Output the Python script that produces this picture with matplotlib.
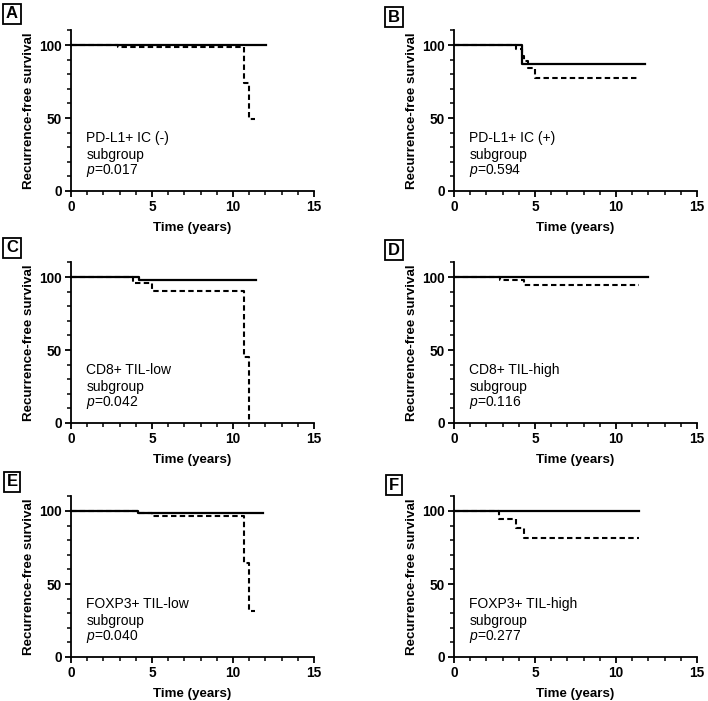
import matplotlib
matplotlib.use("Agg")
import matplotlib.pyplot as plt
from matplotlib.ticker import MultipleLocator

plt.rcParams['font.family'] = ['Liberation Sans', 'DejaVu Sans']
plt.rcParams['mathtext.fontset'] = 'custom'
plt.rcParams['mathtext.it'] = 'Liberation Sans:italic'
plt.rcParams['mathtext.rm'] = 'Liberation Sans'

# Panel data (Kaplan-Meier step curves: time in years, survival %)
panel_letters = ["A", "B", "C", "D", "E", "F"]
panel_titles = ["PD-L1+ IC (-)", "PD-L1+ IC (+)", "CD8+ TIL-low",
                "CD8+ TIL-high", "FOXP3+ TIL-low", "FOXP3+ TIL-high"]
p_values = ["0.017", "0.594", "0.042", "0.116", "0.040", "0.277"]

solid_t = [
    [0, 12.05],
    [0, 4.21, 11.76],
    [0, 4.22, 11.4],
    [0, 12.0],
    [0, 4.16, 11.87],
    [0, 11.45],
]
solid_s = [
    [100, 100],
    [100, 87.1, 87.1],
    [100, 97.9, 97.9],
    [100, 100],
    [100, 98.8, 98.8],
    [100, 100],
]
dashed_t = [
    [0, 2.9, 10.68, 11.0, 11.35],
    [0, 3.85, 4.2, 4.3, 4.55, 4.97, 11.45],
    [0, 3.8, 4.98, 10.7, 11.0, 11.0],
    [0, 2.82, 4.3, 11.45],
    [0, 4.16, 5.0, 10.7, 11.0, 11.35],
    [0, 2.8, 3.8, 4.35, 11.45],
]
dashed_s = [
    [100, 98.4, 73.8, 49.4, 49.4],
    [100, 97.0, 92.5, 89.0, 84.0, 77.5, 77.5],
    [100, 95.7, 90.5, 45.1, 0, 0],
    [100, 98.0, 94.4, 94.4],
    [100, 98.8, 96.5, 64.2, 31.6, 31.6],
    [100, 94.7, 88.1, 81.7, 81.7],
]

W, H = 708, 701
fig = plt.figure(figsize=(W / 100, H / 100), dpi=100)

col_left = [71, 454]
row_bottom = [191, 423, 657]
ax_w = 243
ax_h = 160.6
box_pos = [(12, 14), (394, 17), (12, 248), (394, 250), (12, 482), (394, 485)]

for i in range(6):
    r, c = divmod(i, 2)
    left = col_left[c] / W
    bottom = 1 - row_bottom[r] / H
    ax = fig.add_axes([left, bottom, ax_w / W, ax_h / H])
    ax.step(solid_t[i], solid_s[i], where='post', color='black', lw=1.6,
            clip_on=False, zorder=3)
    ax.step(dashed_t[i], dashed_s[i], where='post', color='black', lw=1.5,
            linestyle=(0, (2.6, 1.6)), clip_on=False, zorder=2)
    ax.set_xlim(0, 15)
    ax.set_ylim(0, 110)
    ax.spines['top'].set_visible(False)
    ax.spines['right'].set_visible(False)
    for s in ['left', 'bottom']:
        ax.spines[s].set_linewidth(1.3)
    ax.xaxis.set_major_locator(MultipleLocator(5))
    ax.xaxis.set_minor_locator(MultipleLocator(1))
    ax.yaxis.set_major_locator(MultipleLocator(50))
    ax.yaxis.set_minor_locator(MultipleLocator(10))
    ax.tick_params(which='major', length=4.5, width=1.3, direction='out',
                   labelsize=9.8, pad=2)
    ax.tick_params(which='minor', length=3, width=1.1, direction='out')
    for lab in ax.get_xticklabels() + ax.get_yticklabels():
        lab.set_fontweight('bold')
    ax.set_xlabel("Time (years)", fontsize=9.6, fontweight='bold', labelpad=6)
    ax.set_ylabel("Recurrence-free survival", fontsize=9.6, fontweight='bold',
                  labelpad=3)
    ax.text(0.95, 36, panel_titles[i], fontsize=10, va='center', ha='left')
    ax.text(0.95, 25, "subgroup", fontsize=10, va='center', ha='left')
    ax.text(0.95, 14, "$p$=" + p_values[i], fontsize=10, va='center', ha='left')
    bx, by = box_pos[i]
    fig.text(bx / W, 1 - by / H, panel_letters[i], fontsize=12, fontweight='bold',
             ha='center', va='center',
             bbox=dict(boxstyle='square,pad=0.16', fc='white', ec='black', lw=1.3))

fig.savefig("out.png", dpi=100)
